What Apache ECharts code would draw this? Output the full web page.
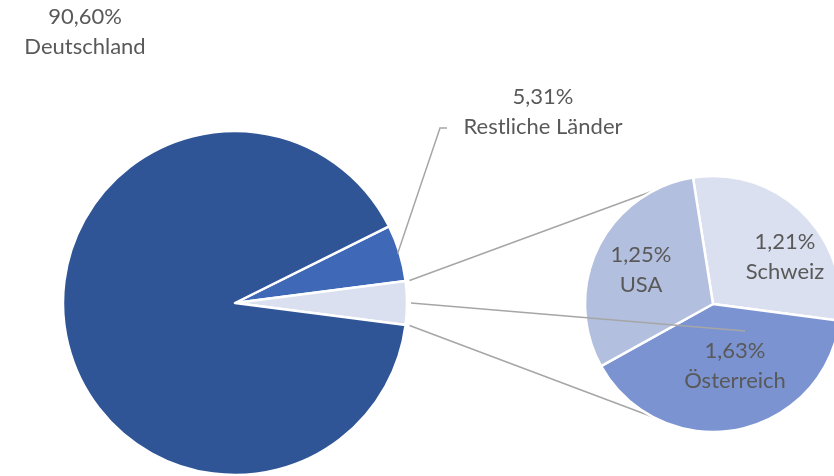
<!DOCTYPE html>
<html><head><meta charset="utf-8">
<script src="https://cdn.jsdelivr.net/npm/echarts@6/dist/echarts.min.js"></script>
<style>html,body{margin:0;padding:0;background:#fff}#c{width:834px;height:476px}</style>
</head><body><div id="c"></div>
<script>
// Data
const mainNames = ['Restliche Länder', 'Sonstige', 'Deutschland'];
const mainValues = [5.31, 4.09, 90.60];
const subNames = ['Schweiz', 'Österreich', 'USA'];
const subValues = [1.21, 1.63, 1.25];

const fmt = v => v.toFixed(2).replace('.', ',') + '%';

// Layout constants
const C1 = [235, 303], R1 = 172;
const C2 = [713, 304], R2 = 128;
const otherHalf = mainValues[1] / 100 * 360 / 2;
const mainStart = otherHalf + mainValues[0] / 100 * 360;
const labelPosMain = {0: [543, 112], 2: [85, 32]};
const labelPosSub = {0: [785, 257], 1: [735, 366], 2: [641, 270]};

const pt = (c, r, deg) => [c[0] + r * Math.cos(deg * Math.PI / 180), c[1] - r * Math.sin(deg * Math.PI / 180)];

const mainColors = ['#3F69B7', '#DAE0F0', '#2F5597'];
const subColors = ['#DAE0F0', '#7B93D1', '#B3BFDF'];

const a1 = pt(C1, R1 + 4, otherHalf), b1 = pt(C2, R2, 118);
const a2 = pt(C1, R1 + 4, -otherHalf), b2 = pt(C2, R2, -118);
const restMid = otherHalf + mainValues[0] / 100 * 360 / 2;
const l0 = pt(C1, R1 - 2, restMid);
const o0 = pt(C1, R1 + 4, 0);

const lineStyle = {stroke: '#A6A6A6', lineWidth: 1.5};
const textStyle = {color: '#595959', fontFamily: 'Lato', fontSize: 22, lineHeight: 30, align: 'center', overflow: 'none'};

const chart = echarts.init(document.getElementById('c'));
chart.setOption({
  animation: false,
  graphic: [
    {type: 'line', z: 0, shape: {x1: a1[0], y1: a1[1], x2: b1[0], y2: b1[1]}, style: lineStyle},
    {type: 'line', z: 0, shape: {x1: a2[0], y1: a2[1], x2: b2[0], y2: b2[1]}, style: lineStyle},
    {type: 'polyline', z: 100, shape: {points: [l0, [440, 128], [447, 128]]}, style: lineStyle},
    {type: 'line', z: 100, shape: {x1: o0[0], y1: o0[1], x2: 745, y2: 331}, style: lineStyle}
  ],
  series: [
    {
      type: 'pie', center: C1, radius: R1, startAngle: mainStart, clockwise: true,
      avoidLabelOverlap: false,
      itemStyle: {borderColor: '#fff', borderWidth: 2.5},
      label: Object.assign({show: true, position: 'outside', formatter: p => p.dataIndex === 1 ? '' : fmt(p.value) + '\n' + p.name}, textStyle),
      labelLine: {show: false},
      labelLayout: p => labelPosMain[p.dataIndex] ? {x: labelPosMain[p.dataIndex][0], y: labelPosMain[p.dataIndex][1], align: 'center', verticalAlign: 'middle'} : {},
      data: mainNames.map((n, i) => ({name: n, value: mainValues[i], itemStyle: {color: mainColors[i]}, label: i === 1 ? {show: false} : undefined}))
    },
    {
      type: 'pie', center: C2, radius: R2, startAngle: 99, clockwise: true,
      itemStyle: {borderColor: '#fff', borderWidth: 2.5},
      label: Object.assign({show: true, position: 'inside', formatter: p => fmt(p.value) + '\n' + p.name}, textStyle),
      labelLayout: p => ({x: labelPosSub[p.dataIndex][0], y: labelPosSub[p.dataIndex][1], align: 'center', verticalAlign: 'middle'}),
      data: subNames.map((n, i) => ({name: n, value: subValues[i], itemStyle: {color: subColors[i]}}))
    }
  ]
});
</script></body></html>
